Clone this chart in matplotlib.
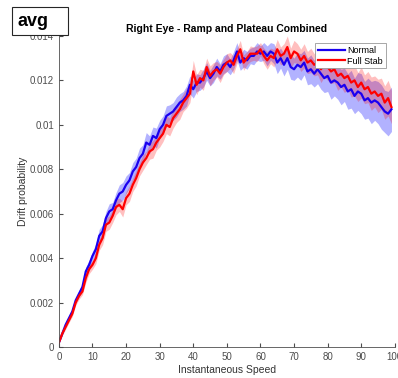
import matplotlib
matplotlib.use('Agg')
import matplotlib.pyplot as plt
from matplotlib.patches import Rectangle
import numpy as np

plt.rcParams['font.family'] = ['Liberation Sans', 'DejaVu Sans']

speed = list(range(100))

normal = [0.0002, 0.0006, 0.0010, 0.0013, 0.0016, 0.0021, 0.0024, 0.0027, 0.0034, 0.0037,
          0.0041, 0.0044, 0.0050, 0.0052, 0.0058, 0.0061, 0.0062, 0.0066, 0.0069, 0.0070,
          0.0073, 0.0075, 0.0079, 0.0081, 0.0085, 0.0087, 0.0092, 0.0091, 0.0095, 0.0094,
          0.0098, 0.0100, 0.0104, 0.0105, 0.0106, 0.0108, 0.0110, 0.0111, 0.0113, 0.0118,
          0.0116, 0.0119, 0.0119, 0.0121, 0.0124, 0.0121, 0.0123, 0.0126, 0.0124, 0.0127,
          0.0128, 0.0126, 0.0129, 0.0133, 0.0128, 0.0130, 0.0129, 0.0131, 0.0131, 0.0133,
          0.0132, 0.0133, 0.0131, 0.0133, 0.0132, 0.0128, 0.0130, 0.0127, 0.0130, 0.0126,
          0.0125, 0.0127, 0.0126, 0.0128, 0.0124, 0.0125, 0.0123, 0.0125, 0.0123, 0.0121,
          0.0122, 0.0119, 0.0120, 0.0119, 0.0117, 0.0118, 0.0115, 0.0116, 0.0113, 0.0115,
          0.0114, 0.0111, 0.0112, 0.0110, 0.0111, 0.0110, 0.0108, 0.0106, 0.0105, 0.0107]

full_stab = [0.0002, 0.0006, 0.0009, 0.0012, 0.0015, 0.0020, 0.0023, 0.0025, 0.0031, 0.0035,
             0.0037, 0.0040, 0.0046, 0.0049, 0.0055, 0.0056, 0.0059, 0.0063, 0.0064, 0.0062,
             0.0067, 0.0069, 0.0073, 0.0076, 0.0080, 0.0083, 0.0085, 0.0088, 0.0089, 0.0092,
             0.0094, 0.0096, 0.0100, 0.0099, 0.0103, 0.0105, 0.0107, 0.0110, 0.0112, 0.0114,
             0.0124, 0.0118, 0.0121, 0.0120, 0.0126, 0.0122, 0.0124, 0.0125, 0.0123, 0.0126,
             0.0128, 0.0129, 0.0127, 0.0131, 0.0134, 0.0128, 0.0130, 0.0132, 0.0132, 0.0132,
             0.0134, 0.0131, 0.0129, 0.0131, 0.0130, 0.0134, 0.0131, 0.0132, 0.0135, 0.0130,
             0.0133, 0.0132, 0.0129, 0.0131, 0.0128, 0.0129, 0.0127, 0.0128, 0.0125, 0.0127,
             0.0126, 0.0124, 0.0125, 0.0122, 0.0123, 0.0121, 0.0122, 0.0119, 0.0120, 0.0117,
             0.0119, 0.0116, 0.0117, 0.0114, 0.0115, 0.0113, 0.0114, 0.0110, 0.0112, 0.0108]

normal_err = [0.00005, 0.00008, 0.0001, 0.0001, 0.00012, 0.00012, 0.00015, 0.00015, 0.0002, 0.0002,
              0.0002, 0.00025, 0.0003, 0.0003, 0.0003, 0.00035, 0.0003, 0.00035, 0.0004, 0.0004,
              0.0004, 0.00035, 0.0004, 0.0004, 0.00045, 0.0004, 0.00045, 0.0004, 0.0004, 0.00045,
              0.0004, 0.0004, 0.00045, 0.0004, 0.0004, 0.00045, 0.0004, 0.0004, 0.00045, 0.0004,
              0.0004, 0.0004, 0.00035, 0.0004, 0.0004, 0.00035, 0.0004, 0.0004, 0.00035, 0.0004,
              0.0004, 0.00035, 0.0004, 0.0004, 0.00035, 0.0004, 0.0004, 0.00035, 0.0004, 0.0004,
              0.00035, 0.0004, 0.00045, 0.0004, 0.00045, 0.0005, 0.00045, 0.0005, 0.0005, 0.00055,
              0.0005, 0.00055, 0.0006, 0.00055, 0.0006, 0.00065, 0.0006, 0.00065, 0.0007, 0.00065,
              0.0007, 0.00075, 0.0007, 0.00075, 0.0008, 0.00075, 0.0008, 0.00085, 0.0008, 0.00085,
              0.0009, 0.00085, 0.0009, 0.00095, 0.0009, 0.00095, 0.001, 0.00095, 0.001, 0.001]

full_stab_err = [0.00005, 0.00008, 0.0001, 0.0001, 0.00012, 0.00012, 0.00015, 0.00015, 0.0002, 0.0002,
                 0.0002, 0.00025, 0.00025, 0.0003, 0.0003, 0.0003, 0.0003, 0.00035, 0.0003, 0.00035,
                 0.0003, 0.00035, 0.0003, 0.00035, 0.0003, 0.00035, 0.0003, 0.00035, 0.0004, 0.00035,
                 0.0004, 0.00035, 0.0004, 0.0004, 0.00045, 0.0004, 0.00045, 0.0004, 0.00045, 0.0004,
                 0.0005, 0.00045, 0.0004, 0.00045, 0.0004, 0.00045, 0.0004, 0.00035, 0.0004, 0.00035,
                 0.0004, 0.00035, 0.0004, 0.00035, 0.0004, 0.00035, 0.0003, 0.00035, 0.0003, 0.00035,
                 0.0003, 0.00035, 0.0004, 0.00035, 0.0004, 0.00045, 0.0004, 0.00045, 0.0005, 0.00045,
                 0.0005, 0.00045, 0.0005, 0.00055, 0.0005, 0.00055, 0.0005, 0.00055, 0.0006, 0.00055,
                 0.0006, 0.00055, 0.0006, 0.00065, 0.0006, 0.00065, 0.0006, 0.00065, 0.0007, 0.00065,
                 0.0007, 0.00065, 0.0007, 0.00075, 0.0007, 0.00075, 0.0007, 0.00075, 0.0008, 0.00075]

x_ticks = [0, 10, 20, 30, 40, 50, 60, 70, 80, 90, 100]
y_ticks = [0, 0.002, 0.004, 0.006, 0.008, 0.01, 0.012, 0.014]

fig = plt.figure(figsize=(3.98, 3.78), dpi=100)
ax = fig.add_axes([0.148, 0.082, 0.844, 0.823])

x = np.array(speed)
n = np.array(normal)
f = np.array(full_stab)
ne = np.array(normal_err)
fe = np.array(full_stab_err)

ax.fill_between(x, n - ne, n + ne, color='#0000ff', alpha=0.3, linewidth=0)
ax.plot(x, n, color='#1a00f0', linewidth=1.6, label='Normal')
ax.fill_between(x, f - fe, f + fe, color='#ff0000', alpha=0.25, linewidth=0)
ax.plot(x, f, color='#ff0000', linewidth=1.6, label='Full Stab')

ax.set_xlim(0, 100)
ax.set_ylim(0, 0.014)
ax.set_xticks(x_ticks)
ax.set_yticks(y_ticks)
ax.set_yticklabels(['%g' % v for v in y_ticks])
ax.tick_params(direction='in', length=3, labelsize=7, colors='#4d4d4d')
for s in ['top', 'right']:
    ax.spines[s].set_visible(False)
for s in ['left', 'bottom']:
    ax.spines[s].set_color('#4d4d4d')
    ax.spines[s].set_linewidth(0.6)

ax.set_xlabel('Instantaneous Speed', fontsize=7.5, color='#333333', labelpad=2)
ax.set_ylabel('Drift probability', fontsize=7.5, color='#333333', labelpad=1)
ax.set_title('Right Eye - Ramp and Plateau Combined', fontsize=7.5, fontweight='bold', pad=3)

leg = ax.legend(loc='upper right', bbox_to_anchor=(0.973, 0.977), borderaxespad=0,
                fontsize=6.5, fancybox=False, framealpha=1, edgecolor='#999999',
                borderpad=0.3, labelspacing=0.2, handlelength=3.0, handletextpad=0.3)
leg.get_frame().set_linewidth(0.6)

fig.patches.append(Rectangle((0.030, 0.907), 0.141, 0.074, transform=fig.transFigure,
                             facecolor='white', edgecolor='#262626', linewidth=0.8, zorder=5))
fig.text(0.045, 0.944, 'avg', fontsize=13, fontweight='bold', va='center', ha='left', zorder=6)

fig.savefig('out.png', dpi=100)
